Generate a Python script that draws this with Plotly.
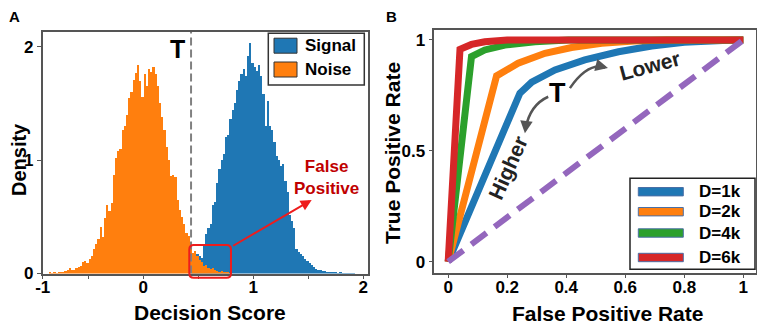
import plotly.graph_objects as go

# ---------------- DATA ----------------
BIN_WIDTH = 0.02
noise_first_center = -0.85
noise_density = [0.005, 0.003, 0.008, 0.004, 0.010, 0.008, 0.012, 0.018, 0.030, 0.045,
                 0.035, 0.028, 0.050, 0.055, 0.065, 0.105, 0.110, 0.095, 0.125, 0.150,
                 0.215, 0.260, 0.300, 0.410, 0.320, 0.490, 0.600, 0.550, 0.620, 0.870,
                 1.020, 1.080, 1.100, 1.270, 1.300, 1.400, 1.550, 1.600, 1.710, 1.770,
                 1.840, 1.700, 1.560, 1.760, 1.650, 1.800, 1.780, 1.820, 1.760, 1.650,
                 1.500, 1.380, 1.270, 1.120, 1.000, 0.860, 0.870, 0.850, 0.650, 0.560,
                 0.500, 0.440, 0.360, 0.330, 0.280, 0.180, 0.200, 0.150, 0.120, 0.100,
                 0.070, 0.075, 0.050, 0.040, 0.045, 0.030, 0.025, 0.015, 0.020, 0.010,
                 0.006, 0.008, 0.003]
signal_first_center = 0.45
signal_density = [0.05, 0.12, 0.17, 0.15, 0.14, 0.25, 0.35, 0.40, 0.44, 0.60,
                  0.63, 0.80, 0.92, 1.00, 1.05, 1.20, 1.22, 1.36, 1.44, 1.50,
                  1.62, 1.70, 1.76, 1.80, 1.74, 1.92, 2.03, 1.86, 1.82, 1.79,
                  1.84, 1.74, 1.58, 1.30, 1.52, 1.30, 1.27, 1.16, 1.04, 1.00,
                  0.95, 0.97, 0.82, 0.72, 0.52, 0.46, 0.40, 0.22, 0.19, 0.17,
                  0.15, 0.13, 0.11, 0.09, 0.075, 0.06, 0.04, 0.035, 0.03, 0.02,
                  0.018, 0.012, 0.01, 0.012, 0.006, 0.008, 0.004, 0.006, 0.003, 0.004,
                  0.002, 0.003, 0.004, 0.002]
hist_names = ["Signal", "Noise"]
threshold = 0.434

roc_names = ["D=1k", "D=2k", "D=4k", "D=6k"]
fpr_1k = [0, 0.243, 0.283, 0.362, 0.463, 0.577, 0.69, 0.80, 0.93, 1.0]
tpr_1k = [0, 0.76, 0.81, 0.865, 0.91, 0.947, 0.973, 0.99, 0.998, 1.0]
fpr_2k = [0, 0.164, 0.237, 0.328, 0.418, 0.52, 0.63, 0.74, 1.0]
tpr_2k = [0, 0.838, 0.895, 0.94, 0.966, 0.985, 0.995, 1.0, 1.0]
fpr_4k = [0, 0.079, 0.124, 0.192, 0.294, 0.407, 1.0]
tpr_4k = [0, 0.925, 0.955, 0.977, 0.992, 1.0, 1.0]
fpr_6k = [0, 0.04, 0.079, 0.124, 0.2, 1.0]
tpr_6k = [0, 0.958, 0.98, 0.992, 1.0, 1.0]
chance = [0, 1]

left_x_tickvals = [-0.915, -0.5, 0, 0.5, 1, 1.5, 2]
left_x_ticktext = ["-1", "", "0", "", "1", "", "2"]
left_y_ticks = [0, 1, 2]
right_x_ticks = [0, 0.2, 0.4, 0.6, 0.8, 1]
right_x_ticktext = ["0", "0.2", "0.4", "0.6", "0.8", "1"]
right_y_ticks = [0, 0.5, 1]
right_y_ticktext = ["0", "0.5", "1"]

axis_titles = {"x": "Decision Score", "y": "Density",
               "x2": "False Positive Rate", "y2": "True Positive Rate"}

# ---------------- STYLE ----------------
PAGE_OFF = 8            # default body margin of the html page
W, H = 765 - PAGE_OFF, 330 - PAGE_OFF
FONT = "Liberation Sans, Arial, sans-serif"
BLUE, ORANGE, GREEN, RED, PURPLE = "#1f77b4", "#ff7f0e", "#2ca02c", "#d62728", "#9467bd"
AXC = "#555555"

LX = [-0.915, 2.043]
LY = [0, 2.13]
RX = [-0.047, 1.043]
RY = [-0.0496, 1.045]


def px_x(X):
    return (X - PAGE_OFF) / W


def px_y(Y):
    return 1 - (Y - PAGE_OFF) / H


fig = go.Figure()

noise_x = [noise_first_center + BIN_WIDTH * i for i in range(len(noise_density))]
signal_x = [signal_first_center + BIN_WIDTH * i for i in range(len(signal_density))]

fig.add_trace(go.Bar(x=signal_x, y=signal_density, width=BIN_WIDTH, name=hist_names[0],
                     marker=dict(color=BLUE, line=dict(width=0)), xaxis="x", yaxis="y",
                     showlegend=False))
fig.add_trace(go.Bar(x=noise_x, y=noise_density, width=BIN_WIDTH, name=hist_names[1],
                     marker=dict(color=ORANGE, line=dict(width=0)), xaxis="x", yaxis="y",
                     showlegend=False))

roc_colors = [BLUE, ORANGE, GREEN, RED]
for name, fx, ty, c in zip(roc_names, [fpr_1k, fpr_2k, fpr_4k, fpr_6k],
                           [tpr_1k, tpr_2k, tpr_4k, tpr_6k], roc_colors):
    fig.add_trace(go.Scatter(x=fx, y=ty, mode="lines", name=name,
                             line=dict(color=c, width=7), xaxis="x2", yaxis="y2",
                             showlegend=False))
fig.add_trace(go.Scatter(x=chance, y=chance, mode="lines", name="Chance",
                         line=dict(color=PURPLE, width=6, dash="19px,10px"),
                         xaxis="x2", yaxis="y2", showlegend=False))

axis_common = dict(showline=True, linecolor=AXC, linewidth=1.5, mirror=True,
                   ticks="outside", ticklen=4, tickcolor=AXC, showgrid=False,
                   zeroline=False, automargin=False,
                   tickfont=dict(family=FONT, size=17, color="black", weight="bold"))
title_font = dict(family=FONT, size=21, color="black", weight="bold")

fig.update_layout(
    width=W, height=H, margin=dict(l=0, r=0, t=0, b=0),
    paper_bgcolor="white", plot_bgcolor="white",
    barmode="overlay", bargap=0,
    font=dict(family=FONT, color="black"),
    xaxis=dict(domain=[px_x(42.7), px_x(368)], range=LX, tickvals=left_x_tickvals,
               ticktext=left_x_ticktext, anchor="y", ticklabelstandoff=-7, **axis_common),
    yaxis=dict(domain=[px_y(273.5), px_y(32)], range=LY, tickvals=left_y_ticks, anchor="x",
               **axis_common),
    xaxis2=dict(domain=[px_x(434.3), px_x(756)], range=RX, tickvals=right_x_ticks,
                ticktext=right_x_ticktext, anchor="y2", ticklabelstandoff=-6, **axis_common),
    yaxis2=dict(domain=[px_y(272.7), px_y(30)], range=RY, tickvals=right_y_ticks,
                ticktext=right_y_ticktext, anchor="x2", **axis_common),
)

shapes = []
ann = []

# axis titles (placed as text so that their position can be set exactly)
for key, (X, Y, ang, fs) in {"x": (210, 312, 0, 21), "y": (19, 160, -90, 20),
                             "x2": (607.5, 313, 0, 21), "y2": (392, 153, -90, 21)}.items():
    ann.append(dict(x=px_x(X), y=px_y(Y), xref="paper", yref="paper", text=axis_titles[key],
                    textangle=ang, xanchor="center", yanchor="middle", showarrow=False,
                    font=dict(title_font, size=fs)))

# threshold line
shapes.append(dict(type="line", xref="x", yref="y domain", x0=threshold, x1=threshold,
                   y0=0, y1=1, line=dict(color="#808080", width=2, dash="8px,4px")))


def dom(v, r):
    return (v - r[0]) / (r[1] - r[0])


# rounded red box (domain fractions of the left axes, so it is not clipped)
bx0, bx1, by0, by1 = 0.418, 0.797, -0.037, 0.2515
rx, ry = 0.04, 0.04
a0, a1, b0, b1 = dom(bx0, LX), dom(bx1, LX), dom(by0, LY), dom(by1, LY)
rdx, rdy = rx / (LX[1] - LX[0]), ry / (LY[1] - LY[0])
path = (f"M {a0+rdx},{b0} L {a1-rdx},{b0} Q {a1},{b0} {a1},{b0+rdy} "
        f"L {a1},{b1-rdy} Q {a1},{b1} {a1-rdx},{b1} L {a0+rdx},{b1} "
        f"Q {a0},{b1} {a0},{b1-rdy} L {a0},{b0+rdy} Q {a0},{b0} {a0+rdx},{b0} Z")
shapes.append(dict(type="path", xref="x domain", yref="y domain", path=path,
                   line=dict(color="#ee1c1c", width=2)))

# red arrow + label
ann.append(dict(x=1.531, y=0.649, ax=0.804, ay=0.237, xref="x", yref="y", axref="x", ayref="y",
                text="", showarrow=True, arrowhead=2, arrowsize=1.1, arrowwidth=2,
                arrowcolor="#ee1c1c"))
ann.append(dict(x=1.667, y=0.847, xref="x", yref="y", text="False<br>Positive",
                xanchor="center", yanchor="middle", showarrow=False,
                font=dict(family=FONT, size=17, color="#c00000", weight="bold")))
ann.append(dict(x=0.311, y=1.984, xref="x", yref="y", text="T", showarrow=False,
                xanchor="center", yanchor="middle",
                font=dict(family=FONT, size=25, color="black", weight="bold")))

# left legend
shapes.append(dict(type="rect", xref="paper", yref="paper", x0=px_x(268.3), x1=px_x(364.3),
                   y0=px_y(85), y1=px_y(33.3), line=dict(color="#333333", width=1.5),
                   fillcolor="white"))
for name, c, yc in zip(hist_names, [BLUE, ORANGE], [45.7, 69.5]):
    shapes.append(dict(type="rect", xref="paper", yref="paper", x0=px_x(274), x1=px_x(297),
                       y0=px_y(yc + 7.5), y1=px_y(yc - 7.5), fillcolor=c,
                       line=dict(color="#333333", width=1)))
    ann.append(dict(x=px_x(303), y=px_y(yc), xref="paper", yref="paper", text=name,
                    xanchor="left", yanchor="middle", showarrow=False,
                    font=dict(family=FONT, size=17, color="black", weight="bold")))

# right panel annotations
ann.append(dict(x=0.370, y=0.761, xref="x2", yref="y2", text="T", showarrow=False,
                xanchor="center", yanchor="middle",
                font=dict(family=FONT, size=27, color="black", weight="bold")))
ann.append(dict(x=0.684, y=0.883, xref="x2", yref="y2", text="Lower", showarrow=False,
                xanchor="center", yanchor="middle", textangle=-15,
                font=dict(family=FONT, size=21, color="#222222", weight="bold")))
ann.append(dict(x=0.202, y=0.427, xref="x2", yref="y2", text="Higher", showarrow=False,
                xanchor="center", yanchor="middle", textangle=-66,
                font=dict(family=FONT, size=21, color="#222222", weight="bold")))
shapes.append(dict(type="path", xref="x2", yref="y2",
                   path="M 0.4125,0.783 Q 0.4736,0.9008 0.532,0.876",
                   line=dict(color="#555555", width=2.5)))
shapes.append(dict(type="path", xref="x2", yref="y2",
                   path="M 0.339,0.744 Q 0.277,0.707 0.262,0.60",
                   line=dict(color="#555555", width=2.5)))
ann.append(dict(x=0.5414, y=0.8737, xref="x2", yref="y2", ax=-8, ay=-2, text="",
                showarrow=True, arrowhead=2, arrowsize=1, arrowwidth=2.5, arrowcolor="#555555"))
ann.append(dict(x=0.26, y=0.579, xref="x2", yref="y2", ax=1, ay=-8, text="",
                showarrow=True, arrowhead=2, arrowsize=1, arrowwidth=2.5, arrowcolor="#555555"))

# right legend
shapes.append(dict(type="rect", xref="paper", yref="paper", x0=px_x(630), x1=px_x(755),
                   y0=px_y(269.3), y1=px_y(178.3), line=dict(color="#222222", width=1.5),
                   fillcolor="white"))
for name, c, yc in zip(roc_names, roc_colors, [191.7, 211.7, 233.0, 257.5]):
    shapes.append(dict(type="rect", xref="paper", yref="paper", x0=px_x(638.3), x1=px_x(683.3),
                       y0=px_y(yc + 4.2), y1=px_y(yc - 4.2), fillcolor=c,
                       line=dict(color="#4a6fa5", width=1)))
    ann.append(dict(x=px_x(696.7), y=px_y(yc), xref="paper", yref="paper", text=name,
                    xanchor="left", yanchor="middle", showarrow=False,
                    font=dict(family=FONT, size=17, color="black", weight="bold")))

# panel labels
ann.append(dict(x=px_x(14), y=px_y(16), xref="paper", yref="paper", text="A", showarrow=False,
                xanchor="center", yanchor="middle",
                font=dict(family=FONT, size=15, color="black", weight="bold")))
ann.append(dict(x=px_x(391), y=px_y(16), xref="paper", yref="paper", text="B", showarrow=False,
                xanchor="center", yanchor="middle",
                font=dict(family=FONT, size=15, color="black", weight="bold")))

fig.update_layout(shapes=shapes, annotations=ann)
fig.write_html("out.html")
